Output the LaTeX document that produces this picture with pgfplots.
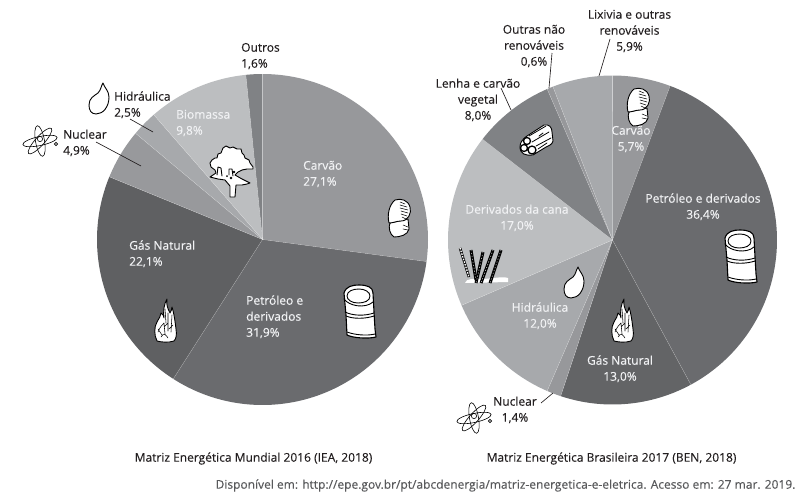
\documentclass[border=0pt]{standalone}
\usepackage{pgfplots}
\pgfplotsset{compat=1.18}
\usepackage{fontspec}
\setmainfont{Open Sans}
\newfontfamily\body[RawFeature={embolden=0.2}]{Open Sans}
\definecolor{txt}{HTML}{231F20}
\definecolor{wtx}{HTML}{F1F2F4}
\definecolor{srcc}{HTML}{58595B}
\definecolor{gA}{HTML}{97989B}
\definecolor{gB}{HTML}{6A6B6E}
\definecolor{gC}{HTML}{5F6062}
\definecolor{gD}{HTML}{98999C}
\definecolor{gE}{HTML}{A7A9AC}
\definecolor{gF}{HTML}{BCBEC0}
\definecolor{gG}{HTML}{808285}
\definecolor{gH}{HTML}{636466}
\newcommand\pieslices[5]{%
  \gdef\cum{0}%
  \foreach \v/\col in {#5}{%
    \pgfmathsetmacro\aS{\cum/#4*360}%
    \pgfmathsetmacro\aE{(\cum+\v)/#4*360}%
    \pgfmathtruncatemacro\nn{ceil((\aE-\aS)/1.5)}%
    \gdef\pts{(#1,-#2) }%
    \foreach \k in {0,...,\nn}{%
      \pgfmathsetmacro\aa{\aS+(\aE-\aS)*\k/\nn}%
      \pgfmathsetmacro\px{#1+#3*sin(\aa)}%
      \pgfmathsetmacro\py{-#2+#3*cos(\aa)}%
      \xdef\pts{\pts(\px,\py) }%
    }%
    \pgfmathsetmacro\nc{\cum+\v}\xdef\cum{\nc}%
    \edef\tmp{\noexpand\addplot[fill=\col,draw=none,mark=none,forget plot] coordinates {\pts (#1,-#2)};}%
    \tmp
  }%
  \gdef\cum{0}%
  \foreach \v/\col in {#5}{%
    \pgfmathsetmacro\nc{\cum+\v}\xdef\cum{\nc}%
    \pgfmathsetmacro\aE{\cum/#4*360}%
    \pgfmathsetmacro\px{#1+#3*sin(\aE)}%
    \pgfmathsetmacro\py{-#2+#3*cos(\aE)}%
    \edef\tmp{\noexpand\addplot[draw=white,draw opacity=0.4,line width=0.3pt,mark=none,forget plot] coordinates {(#1,-#2) (\px,\py)};}%
    \tmp
  }%
}
\tikzset{tx/.style={inner sep=0pt,font=\body\fontsize{12}{14}\selectfont}}
\newcommand\LL[3]{\node[tx,anchor=mid west,text=txt] at (#1,-#2) {#3};}
\newcommand\LC[3]{\node[tx,anchor=mid,text=txt] at (#1,-#2) {#3};}
\newcommand\WL[3]{\node[tx,anchor=mid west,text=wtx] at (#1,-#2) {#3};}
\newcommand\WC[3]{\node[tx,anchor=mid,text=wtx] at (#1,-#2) {#3};}
\newcommand\leader[4]{\addplot[draw=txt,line width=0.65pt,mark=none,forget plot] coordinates {(#1,-#2) (#3,-#4)};}
% icons, local pixels, y downwards
\tikzset{ic/.style={draw=black,fill=white,line width=0.9pt,line join=round},il/.style={draw=black,line width=0.55pt,line cap=round}}
\newcommand\iconscope[3]{\begin{scope}[x=1pt,y=-1pt,shift={(#1,#2)}]#3\end{scope}}
\newcommand\drop{\draw[ic] (14,0) .. controls (15,4) and (20,8) .. (20,14) .. controls (20,24) and (14,31) .. (7,31) .. controls (2,31) and (0,27) .. (0,22) .. controls (0,15) and (5,13) .. (9,10) .. controls (12,7) and (12,3) .. (14,0) -- cycle;}
\newcommand\flame{%
 \draw[ic] (3,42) .. controls (0,36) and (0,28) .. (3,23) .. controls (5,19) and (7,17) .. (7,14) .. controls (9,15) and (10,17) .. (10,19) .. controls (9,12) and (10,5) .. (13,0) .. controls (12,6) and (14,10) .. (16,14) .. controls (17,12) and (18,10) .. (18,8) .. controls (20,14) and (21,22) .. (22,30) .. controls (23,36) and (22,40) .. (20,42) .. controls (14,44) and (7,43) .. (3,42) -- cycle;
 \draw[il] (4,33) .. controls (6,28) and (8,26) .. (10,24) (10,24) -- (11,35) (14,14) -- (14,32) (11,10) -- (12,24) (18,16) -- (17,33) (19,26) -- (15,30) (7,38) .. controls (10,33) and (12,36) .. (14,39) (4,30) -- (8,36) (14,24) -- (10,28);}
\newcommand\barrel{%
 \draw[ic,line width=1.1pt] (1,8) .. controls (3,1) and (10,0) .. (16,0) .. controls (24,0) and (30,2) .. (30,8) -- (31,27) -- (32,44) -- (33,52) .. controls (25,54) and (10,53) .. (4,50) -- (3,30) -- cycle;
 \draw[ic] (4,11) .. controls (4,6) and (10,4) .. (16,4) .. controls (22,4) and (27,7) .. (27,11) .. controls (27,16) and (21,18) .. (15,18) .. controls (9,18) and (4,15) .. (4,11) -- cycle;
 \draw[il,line width=0.9pt] (2,27) .. controls (10,31) and (22,31) .. (31,28) (3,31) .. controls (10,34) and (22,34) .. (31,31) (4,47) .. controls (12,50) and (24,51) .. (32,49) (1,14) .. controls (6,21) and (22,24) .. (30,17);}
\newcommand\coal{%
 \draw[ic] (2,24) .. controls (0,28) and (2,36) .. (6,38) .. controls (12,38) and (20,36) .. (21,30) -- (20,20) -- cycle;
 \draw[ic] (1,24) .. controls (-1,16) and (1,6) .. (7,1) .. controls (13,-1) and (20,1) .. (22,8) .. controls (24,14) and (20,22) .. (13,22) .. controls (9,22) and (5,24) .. (1,24) -- cycle;
 \draw[il] (12,3) -- (17,5) (12,6) -- (19,8) (12,9) -- (20,11) (13,12) -- (20,14) (13,15) -- (19,17) (14,18) -- (18,20) (15,26) -- (20,28) (15,30) -- (20,31);}
\newcommand\tree{%
 \draw[ic] (1,18) -- (3,15) -- (6,13) -- (8,13) -- (9,9) -- (12,8) -- (14,3) -- (17,1) -- (21,3) -- (24,2) -- (28,4) -- (32,4) -- (33,8) -- (35,10) -- (36,13) -- (40,15) -- (41,18) -- (44,22) -- (44,24) -- (38,24) -- (33,25) -- (29,27) -- (26,30) -- (33,34) -- (41,38) -- (38,39) -- (33,40) -- (27,40) -- (26,52) -- (21,52) -- (21,41) -- (16,35) -- (9,34) -- (1,32) -- (7,28) -- (6,25) -- (2,22) -- cycle;
 \fill[black] (22,33) circle (1.3) (18,31) circle (1) (25,27) circle (1.4);
 \draw[il,line width=0.9pt] (9,22) -- (8,30) (12,23) -- (13,31) (9,22) -- (12,23) (23,24) -- (24,31) (20,24) -- (20,30) (20,24) -- (23,24);}
\newcommand\logs{%
 \draw[ic] (8,12) -- (25,1) .. controls (30,0) and (33,3) .. (33,8) -- (34,17) .. controls (33,21) and (29,22) .. (27,23) -- (14,31) .. controls (7,32) and (1,30) .. (1,23) .. controls (1,18) and (4,15) .. (8,12) -- cycle;
 \draw[il,line width=0.8pt] (10,12) -- (27,2) (13,18) -- (30,8) (17,22) -- (32,14) (20,12) -- (24,9) (19,25) -- (28,19);
 \draw[ic,line width=1.3pt] (8,17) circle (3.5) (5,24) circle (3.5) (13,26) circle (4);}
\newcommand\atom{%
 \begin{scope}[shift={(17,16)}]
  \draw[il,line width=0.6pt] (0,0) ellipse[x radius=17.5,y radius=4.5,rotate=12];
  \draw[il,line width=0.6pt] (0,0) ellipse[x radius=17,y radius=4.5,rotate=48];
  \draw[il,line width=0.6pt] (0,0) ellipse[x radius=15.5,y radius=4.5,rotate=100];
  \draw[il,line width=0.6pt] (0,-2) circle (2.6);
  \draw[il,line width=0.7pt] (16,3) circle (1.7);
 \end{scope}}
\newcommand\cane{%
 \fill[white] (7,36) .. controls (8,31) and (16,32) .. (24,32) .. controls (32,32) and (44,29) .. (50,31) -- (50,35) -- cycle;
 \foreach \xa/\ya/\xb/\yb in {13/3/18/33,25/5/18/36,35/3/23/36,43/3/32/36}{
  \draw[black,line width=3pt] (\xa,\ya) -- (\xb,\yb);
  \draw[gF,line width=0.6pt,dash pattern=on 1.2pt off 1.8pt] (\xa,\ya) -- (\xb,\yb);}
 \draw[black,line width=2.6pt] (2,1) -- (11,30);
 \draw[white,line width=1.3pt,dash pattern=on 1.6pt off 1.2pt] (2,1) -- (11,30);}
\begin{document}
\begin{tikzpicture}
\path[use as bounding box] (0,0) rectangle (802pt,-498pt);
\begin{axis}[at={(0,0)},anchor=north west,scale only axis,width=802pt,height=498pt,
  xmin=0,xmax=802,ymin=-498,ymax=0,hide axis,clip=false]
\pieslices{262.5}{239.5}{165.5}{99.9}{27.1/gA,31.9/gB,22.1/gC,4.9/gD,2.5/gE,9.8/gF,1.6/gG}
\pieslices{612.5}{240}{164.5}{100}{5.7/gA,36.4/gB,13.0/gH,1.4/gA,12.0/gE,17.0/gF,8.0/gG,0.6/gA,5.9/gE}
\leader{130}{119}{153}{132}
\leader{96}{142}{141}{166}
\leader{501}{88}{511}{110}
\leader{552}{53}{549}{88}
\leader{610}{39}{599}{76}
\leader{541}{403}{553}{393}
\LL{241}{49}{Outros}\LL{241}{65}{1,6\%}
\LL{114}{98}{Hidráulica}\LL{114}{114}{2,5\%}
\LL{63}{136}{Nuclear}\LL{63}{152}{4,9\%}
\WL{176}{116}{Biomassa}\WL{176}{132}{9,8\%}
\WL{303}{167}{Carvão}\WL{303}{183}{27,1\%}
\WL{246}{302}{Petróleo e}\WL{246}{318}{derivados}\WL{246}{334}{31,9\%}
\WL{129}{247}{Gás Natural}\WL{129}{263}{22,1\%}
\WC{631}{132}{Carvão}\WC{631}{148}{5,7\%}
\WC{703}{200}{Petróleo e derivados}\WC{703}{216}{36,4\%}
\WC{517}{211}{Derivados da cana}\WC{517}{227}{17,0\%}
\WC{540}{309}{Hidráulica}\WC{540}{325}{12,0\%}
\WC{620}{362}{Gás Natural}\WC{620}{378}{13,0\%}
\LC{515}{403}{Nuclear}\LC{515}{419}{1,4\%}
\LC{478}{85}{Lenha e carvão}\LC{478}{101}{vegetal}\LC{478}{117}{8,0\%}
\LC{534}{31}{Outras não}\LC{534}{47}{renováveis}\LC{534}{63}{0,6\%}
\LC{629.5}{16}{Lixivia e outras}\LC{629.5}{32}{renováveis}\LC{629.5}{48}{5,9\%}
\LC{253.5}{459}{Matriz Energética Mundial 2016 (IEA, 2018)}
\LC{611.5}{459}{Matriz Energética Brasileira 2017 (BEN, 2018)}
\node[tx,anchor=mid,text=srcc] at (505.5,-486) {Disponível em: http://epe.gov.br/pt/abcdenergia/matriz-energetica-e-eletrica. Acesso em: 27 mar. 2019.};
\end{axis}
\iconscope{388}{199}{\coal}
\iconscope{627}{88}{\coal}
\iconscope{343}{285}{\barrel}
\iconscope{724}{230}{\barrel}
\iconscope{154}{299}{\flame}
\iconscope{611}{299}{\flame}
\iconscope{89}{83}{\drop}
\iconscope{564}{267}{\drop}
\iconscope{23}{125}{\atom}
\iconscope{457}{402}{\atom}
\iconscope{209}{145}{\tree}
\iconscope{519}{124}{\logs}
\iconscope{458}{247}{\cane}
\end{tikzpicture}
\end{document}
